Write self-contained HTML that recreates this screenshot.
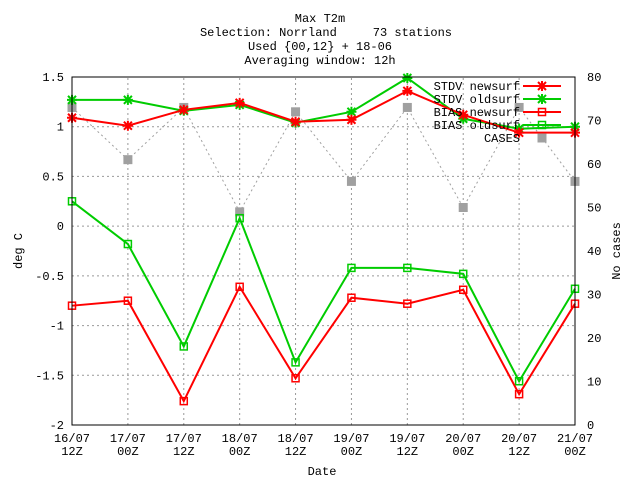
<!DOCTYPE html>
<html><head><meta charset="utf-8"><style>body{margin:0;background:#fff}svg text{font-family:"Liberation Mono",monospace;font-size:12px;fill:#000;white-space:pre}</style></head>
<body>
<svg id="c" width="640" height="480" xmlns="http://www.w3.org/2000/svg">
<text x="320" y="22" text-anchor="middle">Max T2m</text>
<text x="326" y="36" text-anchor="middle" xml:space="preserve">Selection: Norrland     73 stations</text>
<text x="320" y="50" text-anchor="middle">Used {00,12} + 18-06</text>
<text x="320" y="64" text-anchor="middle">Averaging window: 12h</text>
<text x="322" y="475" text-anchor="middle">Date</text>
<text transform="translate(22,251) rotate(-90)" text-anchor="middle">deg C</text>
<text transform="translate(620,251) rotate(-90)" text-anchor="middle">No cases</text>
<g id="grid"></g><g id="series"></g><g id="legend"></g>
<rect x="72" y="77" width="503" height="348" fill="none" stroke="#000"/>
</svg>
<script>
const cats=["16/07|12Z","17/07|00Z","17/07|12Z","18/07|00Z","18/07|12Z","19/07|00Z","19/07|12Z","20/07|00Z","20/07|12Z","21/07|00Z"];
const stdvNew=[1.09,1.01,1.17,1.24,1.05,1.07,1.36,1.12,0.94,0.94];
const stdvOld=[1.27,1.27,1.16,1.22,1.04,1.15,1.49,1.08,0.98,1.00];
const biasNew=[-0.80,-0.75,-1.76,-0.61,-1.53,-0.72,-0.78,-0.64,-1.69,-0.78];
const biasOld=[0.25,-0.18,-1.21,0.08,-1.37,-0.42,-0.42,-0.48,-1.56,-0.63];
const cases=[73,61,73,49,72,56,73,50,73,56];
const yTicks=["-2","-1.5","-1","-0.5","0","0.5","1","1.5"];
const y2Ticks=["0","10","20","30","40","50","60","70","80"];
const NS="http://www.w3.org/2000/svg";
const X0=72,X1=575,Y0=425,Y1=77;
const xs=i=>X0+i*(X1-X0)/(cats.length-1);
const ys=v=>Y0-(v+2)*(Y0-Y1)/3.5;
const ys2=v=>Y0-v*(Y0-Y1)/80;
function mk(t,a,p){const e=document.createElementNS(NS,t);for(const k in a)e.setAttribute(k,a[k]);p.appendChild(e);return e;}
const g=document.getElementById('grid'),s=document.getElementById('series'),L=document.getElementById('legend');
yTicks.forEach(t=>{const y=ys(+t);
 const l=mk('line',{x1:X0,x2:X1,y1:y,y2:y,stroke:'#999','stroke-dasharray':'2,3'},g);
 
 const tx=mk('text',{x:X0-8,y:y+4,'text-anchor':'end'},g);tx.textContent=t;
 });
y2Ticks.forEach(t=>{const y=ys2(+t);
 const tx=mk('text',{x:X1+12,y:y+4},g);tx.textContent=t;
 });
cats.forEach((c,i)=>{const x=xs(i);
 const l=mk('line',{x1:x,x2:x,y1:Y0,y2:Y1,stroke:'#999','stroke-dasharray':'2,3'},g);
 
 const p=c.split('|');
 const t1=mk('text',{x:x,y:Y0+17,'text-anchor':'middle'},g);t1.textContent=p[0];
 
 const t2=mk('text',{x:x,y:Y0+30,'text-anchor':'middle'},g);t2.textContent=p[1];
 });
function marker(type,x,y,col,p){
 if(type==='x'){mk('path',{d:`M${x-4},${y-4}L${x+4},${y+4}M${x-4},${y+4}L${x+4},${y-4}M${x-5},${y}L${x+5},${y}M${x},${y-5}L${x},${y+5}`,stroke:col,'stroke-width':2},p);}
 else if(type==='sq'){mk('rect',{x:x-3.5,y:y-3.5,width:7,height:7,fill:'none',stroke:col,'stroke-width':1.5},p);}
 else {mk('rect',{x:x-4.5,y:y-4.5,width:9,height:9,fill:'#a0a0a0'},p);}
}
const defs=[
 {n:'STDV newsurf',d:stdvNew,c:'#f00',m:'x',id:'stdv-newsurf'},
 {n:'STDV oldsurf',d:stdvOld,c:'#0c0',m:'x',id:'stdv-oldsurf'},
 {n:'BIAS newsurf',d:biasNew,c:'#f00',m:'sq',id:'bias-newsurf'},
 {n:'BIAS oldsurf',d:biasOld,c:'#0c0',m:'sq',id:'bias-oldsurf'},
 {n:'CASES',d:cases,c:'#a0a0a0',m:'g',id:'cases',y2:true}];
defs.slice().reverse().forEach(d=>{
 const gg=mk('g',{},s);
 
 
 const f=d.y2?ys2:ys;
 const pts=d.d.map((v,i)=>xs(i)+','+f(v)).join(' ');
 mk('polyline',{points:pts,fill:'none',stroke:d.c,'stroke-width':d.y2?1:2,'stroke-dasharray':d.y2?'2,3':'none'},gg);
 d.d.forEach((v,i)=>marker(d.m,xs(i),f(v),d.c,gg));
});
defs.forEach((d,k)=>{const y=86+k*13;
 const gg=mk('g',{},L);
 
 
 const t=mk('text',{x:520,y:y+4,'text-anchor':'end'},gg);t.textContent=d.n;
 if(!d.y2)mk('line',{x1:523,x2:561,y1:y,y2:y,stroke:d.c,'stroke-width':2},gg);
 marker(d.m,542,y,d.c,gg);
});
</script>
</body></html>
